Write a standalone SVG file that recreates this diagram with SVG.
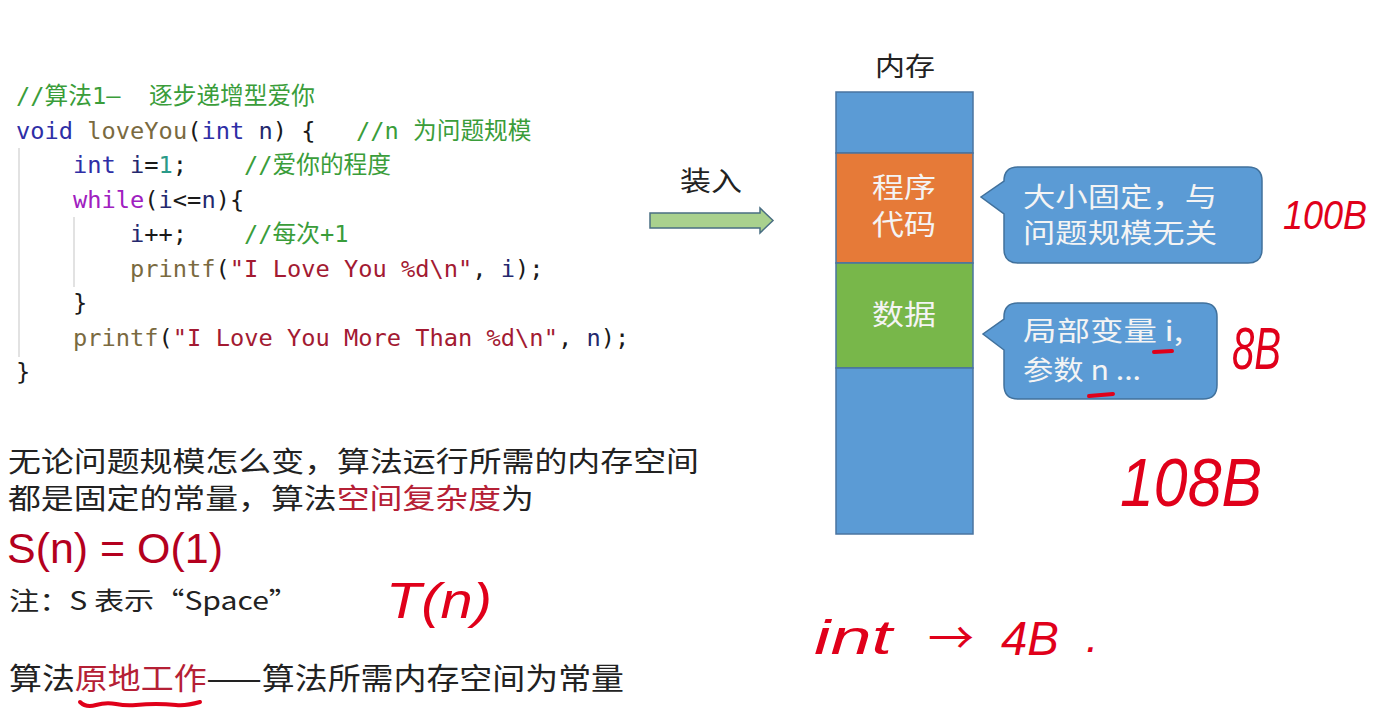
<svg xmlns="http://www.w3.org/2000/svg" width="1379" height="711" viewBox="0 0 1379 711">
<style>
.code{font-family:"DejaVu Sans Mono","Noto Sans CJK SC",monospace;font-size:23.7px;fill:#1a1a1a;white-space:pre}
.kw{fill:#2e2ea6}
.fn{fill:#7a6a40}
.var{fill:#24286e}
.num{fill:#2a9a88}
.ctl{fill:#a020c0}
.str{fill:#a31a32}
.cm{fill:#3a9d3a}
.cn{font-family:"Noto Sans CJK SC","Liberation Sans",sans-serif;fill:#222}
.red{fill:#b52035}
.wt{font-family:"Noto Sans CJK SC","Liberation Sans",sans-serif;fill:#f4f4f4}
.hand{font-family:"Liberation Sans",sans-serif;font-style:italic;fill:#e0001a}
.blk{stroke:#4a74a0;stroke-width:1.5}
.call{fill:#5b9bd5;stroke:#41719c;stroke-width:1.5}
.guide{stroke:#d8d8d8;stroke-width:1.5}
.mark{stroke:#e0001a;stroke-width:4;stroke-linecap:round;fill:none}
</style>
<rect width="1379" height="711" fill="#ffffff"/>

<g id="code">
<line class="guide" x1="19" y1="148" x2="19" y2="357"/>
<line class="guide" x1="74" y1="217" x2="74" y2="287"/>
<text class="code" x="16" y="104"><tspan class="cm">//算法1—</tspan><tspan class="cm" x="149">逐步递增型爱你</tspan></text>
<text class="code" x="16" y="138.5"><tspan class="kw">void</tspan> <tspan class="fn">loveYou</tspan>(<tspan class="kw">int</tspan> <tspan class="var">n</tspan>) {<tspan class="cm" x="356">//n 为问题规模</tspan></text>
<text class="code" x="73" y="173"><tspan class="kw">int</tspan> <tspan class="var">i</tspan>=<tspan class="num">1</tspan>;<tspan class="cm" x="244">//爱你的程度</tspan></text>
<text class="code" x="73" y="207.5"><tspan class="ctl">while</tspan>(<tspan class="var">i</tspan>&lt;=<tspan class="var">n</tspan>){</text>
<text class="code" x="130" y="242"><tspan class="var">i</tspan>++;<tspan class="cm" x="244">//每次+1</tspan></text>
<text class="code" x="130" y="277"><tspan class="fn">printf</tspan>(<tspan class="str">"I Love You %d\n"</tspan>, <tspan class="var">i</tspan>);</text>
<text class="code" x="73" y="311">}</text>
<text class="code" x="73" y="346"><tspan class="fn">printf</tspan>(<tspan class="str">"I Love You More Than %d\n"</tspan>, <tspan class="var">n</tspan>);</text>
<text class="code" x="16" y="380">}</text>
</g>

<g id="explanation">
<text class="cn" x="8" y="472" font-size="28" textLength="691" lengthAdjust="spacingAndGlyphs">无论问题规模怎么变，算法运行所需的内存空间</text>
<text class="cn" x="8" y="509" font-size="28" textLength="526" lengthAdjust="spacingAndGlyphs">都是固定的常量，算法<tspan class="red">空间复杂度</tspan>为</text>
<text x="7" y="563" font-family="Liberation Sans, sans-serif" font-size="42" fill="#b4001e" textLength="216" lengthAdjust="spacingAndGlyphs">S(n) = O(1)</text>
<text class="cn" x="9" y="610" font-size="25" textLength="290" lengthAdjust="spacingAndGlyphs">注：S 表示“Space”</text>
<text class="cn" x="9" y="689" font-size="30" textLength="615" lengthAdjust="spacingAndGlyphs">算法<tspan class="red">原地工作</tspan>——算法所需内存空间为常量</text>
</g>

<g id="label-load">
<text class="cn" x="680" y="191" font-size="27" textLength="62" lengthAdjust="spacingAndGlyphs">装入</text>
</g>

<g id="connectors">
<path d="M650,213 H760 V208 L773,220.5 L760,233 V228 H650 Z" fill="#a9d18e" stroke="#4a6f82" stroke-width="1.5"/>
</g>

<g id="memory">
<text class="cn" x="875" y="76" font-size="26" textLength="60" lengthAdjust="spacingAndGlyphs">内存</text>
<rect class="blk" x="836" y="92" width="137" height="61" fill="#5b9bd5"/>
<rect class="blk" x="836" y="153" width="137" height="110" fill="#e67a38"/>
<rect class="blk" x="836" y="263" width="137" height="105" fill="#78b74a"/>
<rect class="blk" x="836" y="368" width="137" height="166" fill="#5b9bd5"/>
</g>

<g id="node-code">
<text class="wt" x="872" y="198" font-size="28" textLength="64" lengthAdjust="spacingAndGlyphs">程序</text>
<text class="wt" x="872" y="235" font-size="28" textLength="64" lengthAdjust="spacingAndGlyphs">代码</text>
</g>

<g id="node-data">
<text class="wt" x="872" y="325" font-size="28" textLength="64" lengthAdjust="spacingAndGlyphs">数据</text>
</g>

<g id="callout-fixed">
<path class="call" d="M1018,167 H1248 Q1262,167 1262,181 V249 Q1262,263 1248,263 H1018 Q1004,263 1004,249 V214 L981,197 L1004,181 Q1004,167 1018,167 Z"/>
<text class="wt" x="1023" y="207" font-size="27" textLength="194" lengthAdjust="spacingAndGlyphs">大小固定，与</text>
<text class="wt" x="1023" y="243" font-size="27" textLength="194" lengthAdjust="spacingAndGlyphs">问题规模无关</text>
</g>

<g id="callout-vars">
<path class="call" d="M1018,303 H1203 Q1217,303 1217,317 V385 Q1217,399 1203,399 H1018 Q1004,399 1004,385 V350 L983,334 L1004,319 V317 Q1004,303 1018,303 Z"/>
<text class="wt" x="1023" y="341" font-size="27" textLength="160" lengthAdjust="spacingAndGlyphs">局部变量 i,</text>
<text class="wt" x="1023" y="380" font-size="27" textLength="118" lengthAdjust="spacingAndGlyphs">参数 n ...</text>
</g>

<g id="annotations">
<path class="mark" d="M1154,352 L1172,351"/>
<path class="mark" d="M1089,396 L1113,394"/>
<path class="mark" stroke-width="2.5" d="M80,702 Q86,708 96,705 T116,704 T136,705 T156,704 T176,705 T200,702"/>
<text class="hand" x="1283" y="229" font-size="40" textLength="84" lengthAdjust="spacingAndGlyphs">100B</text>
<text class="hand" x="1232" y="369" font-size="60" textLength="49" lengthAdjust="spacingAndGlyphs">8B</text>
<text class="hand" x="1120" y="506" font-size="68" textLength="142" lengthAdjust="spacingAndGlyphs">108B</text>
<text class="hand" x="386" y="618" font-size="50" textLength="106" lengthAdjust="spacingAndGlyphs">T(n)</text>
<text class="hand" x="814" y="654" font-size="48" textLength="78" lengthAdjust="spacingAndGlyphs">int</text>
<text x="928" y="654" font-family="Noto Sans CJK SC, sans-serif" font-size="44" fill="#e0001a" textLength="46" lengthAdjust="spacingAndGlyphs">→</text>
<text class="hand" x="1001" y="655" font-size="48" textLength="58" lengthAdjust="spacingAndGlyphs">4B</text>
<text class="hand" x="1086" y="652" font-size="44">.</text>
</g>
</svg>
